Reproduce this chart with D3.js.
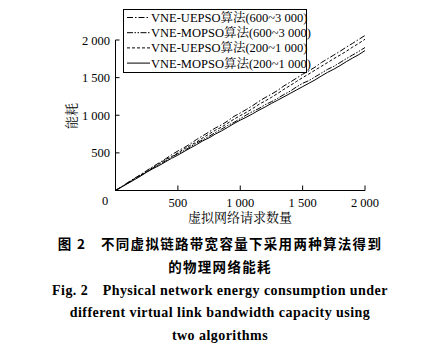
<!DOCTYPE html>
<html><head><meta charset="utf-8">
<script src="https://cdn.jsdelivr.net/npm/d3@7"></script>
<style>body{margin:0;background:#fff}svg{display:block}</style>
</head><body>
<svg id="c" width="421" height="346"></svg>
<script>
const xValues = [0,50,100,150,200,250,300,350,400,450,500,550,600,650,700,750,800,850,900,950,1000,1050,1100,1150,1200,1250,1300,1350,1400,1450,1500,1550,1600,1650,1700,1750,1800,1850,1900,1950,2000];
const uepso600 = [0,52,108,160,210,265,318,368,420,475,525,570,620,678,728,778,830,872,925,985,1030,1078,1128,1185,1235,1280,1330,1390,1440,1492,1545,1590,1640,1700,1750,1800,1850,1905,1955,2008,2060];
const uepso200 = [0,50,100,155,205,252,305,355,410,450,500,552,600,645,700,750,800,842,895,948,995,1040,1090,1145,1190,1238,1290,1345,1395,1448,1500,1548,1600,1650,1700,1752,1800,1850,1905,1955,2010];
const mopso600 = [0,48,98,148,195,250,300,340,392,445,490,530,580,630,675,720,770,815,865,905,955,1005,1050,1090,1140,1180,1225,1275,1320,1375,1425,1460,1510,1560,1610,1650,1700,1752,1800,1848,1900];
const mopso200 = [0,47,95,142,190,243,290,332,380,428,470,518,565,610,660,700,750,792,840,890,935,975,1020,1068,1110,1158,1200,1245,1290,1335,1380,1425,1470,1522,1570,1612,1660,1712,1760,1805,1860];
const seriesNames = ["VNE-UEPSO算法(600~3 000)","VNE-MOPSO算法(600~3 000)","VNE-UEPSO算法(200~1 000)","VNE-MOPSO算法(200~1 000)"];
const xTicks = [500,1000,1500,2000];
const yTicks = [500,1000,1500,2000];
const xTickLabels = ["500","1 000","1 500","2 000"];
const yTickLabels = ["500","1 000","1 500","2 000"];
const xTitle = "虚拟网络请求数量";
const yTitle = "能耗";
const captionLines = ["图 2　不同虚拟链路带宽容量下采用两种算法得到","的物理网络能耗","Fig. 2　Physical network energy consumption under","different virtual link bandwidth capacity using","two algorithms"];

const svg = d3.select("#c");
const serif = "'Liberation Serif','Times New Roman','Noto Serif CJK SC','Noto Sans CJK SC',serif";
const x = d3.scaleLinear().domain([0,2000]).range([115.5,365]);
const y = d3.scaleLinear().domain([0,2000]).range([190.5,40]);

const series = [
  {name: seriesNames[0], values: uepso600, dash: "6,2,1.5,2"},
  {name: seriesNames[1], values: mopso600, dash: "6,1.5,1.5,1.5,1.5,1.5"},
  {name: seriesNames[2], values: uepso200, dash: "3,2"},
  {name: seriesNames[3], values: mopso200, dash: null}
];

// axes
const g = svg.append("g");
g.append("line").attr("x1",x(0)).attr("x2",x(0)).attr("y1",y(2000)).attr("y2",y(0)).attr("stroke","#000").attr("stroke-width",1);
g.append("line").attr("x1",x(0)).attr("x2",x(2000)).attr("y1",y(0)).attr("y2",y(0)).attr("stroke","#000").attr("stroke-width",1);
xTicks.forEach((t,i)=>{
  g.append("line").attr("x1",x(t)).attr("x2",x(t)).attr("y1",y(0)).attr("y2",y(0)-5).attr("stroke","#000");
  g.append("text").attr("x",x(t)).attr("y",207).attr("text-anchor","middle").attr("font-family",serif).attr("font-size",12.5).text(xTickLabels[i]);
});
yTicks.forEach((t,i)=>{
  g.append("line").attr("x1",x(0)).attr("x2",x(0)+4).attr("y1",y(t)).attr("y2",y(t)).attr("stroke","#000");
  g.append("text").attr("x",110).attr("y",y(t)+4.5).attr("text-anchor","end").attr("font-family",serif).attr("font-size",12.5).text(yTickLabels[i]);
});
g.append("text").attr("x",105).attr("y",205).attr("text-anchor","middle").attr("font-family",serif).attr("font-size",12.5).text("0");
g.append("text").attr("x",240).attr("y",222).attr("text-anchor","middle").attr("font-family",serif).attr("font-size",13).text(xTitle);
g.append("text").attr("transform","translate(76,116) rotate(-90)").attr("text-anchor","middle").attr("font-family",serif).attr("font-size",13).text(yTitle);

// lines
const line = d3.line().x((d,i)=>x(xValues[i])).y(d=>y(d));
series.forEach(s=>{
  svg.append("path").datum(s.values).attr("d",line).attr("fill","none").attr("stroke","#000").attr("stroke-width",1)
    .attr("stroke-dasharray",s.dash);
});

// legend
const lg = svg.append("g");
lg.append("rect").attr("x",123.5).attr("y",9.5).attr("width",183).attr("height",63).attr("fill","#fff").attr("stroke","#000").attr("stroke-width",1);
series.forEach((s,i)=>{
  const yy = 17.5 + i*15.2;
  lg.append("line").attr("x1",127).attr("x2",150).attr("y1",yy).attr("y2",yy).attr("stroke","#000").attr("stroke-dasharray",s.dash);
  lg.append("text").attr("x",151).attr("y",yy+4.5).attr("font-family",serif).attr("font-size",12.5).text(s.name);
});

// caption
const cap = [
  {t: captionLines[0], y: 249, size: 13.5, ls: 1.3, fam: "'Noto Sans CJK SC',sans-serif"},
  {t: captionLines[1], y: 272, size: 13.5, ls: 1.3, fam: "'Noto Sans CJK SC',sans-serif"},
  {t: captionLines[2], y: 295, size: 14, ls: 0.45, fam: serif},
  {t: captionLines[3], y: 317, size: 14, ls: 0.45, fam: serif},
  {t: captionLines[4], y: 340, size: 14, ls: 0.45, fam: serif}
];
cap.forEach(c=>{
  svg.append("text").attr("x",220).attr("y",c.y).attr("text-anchor","middle").attr("font-family",c.fam)
    .attr("font-weight","bold").attr("font-size",c.size).attr("letter-spacing",c.ls).text(c.t);
});
</script>
</body></html>
